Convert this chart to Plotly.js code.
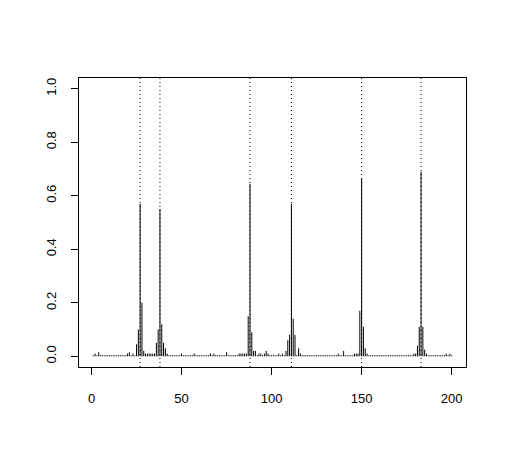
<!DOCTYPE html>
<html>
<head>
<meta charset="utf-8">
<script src="https://cdn.plot.ly/plotly-3.0.1.min.js"></script>
<style>html,body{margin:0;padding:0;background:#fff;}#chart{width:508px;height:464px;}</style>
</head>
<body>
<div id="chart"></div>
<script>
// values at positions 1..200
const values = [
  0.004,0.01,0.004,0.015,0.004,0.004,0.004,0.004,0.004,0.004,
  0.004,0.004,0.004,0.004,0.004,0.004,0.004,0.004,0.004,0.01,
  0.015,0.004,0.01,0.004,0.045,0.10,0.57,0.20,0.02,0.01,
  0.01,0.01,0.01,0.01,0.01,0.05,0.10,0.55,0.12,0.05,
  0.03,0.01,0.004,0.004,0.004,0.004,0.004,0.004,0.004,0.01,
  0.004,0.004,0.004,0.004,0.004,0.004,0.01,0.004,0.004,0.004,
  0.004,0.004,0.004,0.004,0.004,0.01,0.004,0.01,0.004,0.004,
  0.004,0.004,0.004,0.004,0.015,0.004,0.004,0.004,0.004,0.004,
  0.004,0.01,0.01,0.01,0.01,0.01,0.15,0.645,0.09,0.02,
  0.02,0.004,0.01,0.01,0.004,0.01,0.02,0.01,0.004,0.004,
  0.004,0.004,0.004,0.01,0.004,0.01,0.004,0.02,0.06,0.08,
  0.57,0.14,0.08,0.004,0.03,0.01,0.004,0.004,0.004,0.004,
  0.004,0.004,0.004,0.004,0.004,0.004,0.004,0.004,0.004,0.004,
  0.004,0.004,0.004,0.004,0.004,0.004,0.01,0.004,0.004,0.02,
  0.004,0.004,0.004,0.004,0.004,0.01,0.01,0.01,0.17,0.665,
  0.11,0.03,0.01,0.004,0.004,0.004,0.004,0.004,0.004,0.004,
  0.004,0.004,0.004,0.004,0.004,0.004,0.004,0.004,0.004,0.004,
  0.004,0.004,0.004,0.004,0.004,0.004,0.004,0.004,0.01,0.01,
  0.04,0.11,0.69,0.11,0.025,0.01,0.004,0.004,0.004,0.004,
  0.004,0.004,0.004,0.004,0.004,0.004,0.01,0.004,0.01,0.004
];
const positions = values.map((v, i) => i + 1);
// dotted reference lines
const markers = [27, 38, 88, 111, 150, 183];
const xTicks = [0, 50, 100, 150, 200];
const yTicks = [0, 0.2, 0.4, 0.6, 0.8, 1.0];

// build "h" type segments
const segX = [], segY = [];
positions.forEach((p, i) => {
  segX.push(p, p, null);
  segY.push(0, values[i], null);
});

const trace = {
  x: segX, y: segY, type: 'scatter', mode: 'lines',
  line: {color: '#000', width: 1}, hoverinfo: 'skip', connectgaps: false
};

const shapes = markers.map(m => ({
  type: 'line', xref: 'x', yref: 'paper', x0: m, x1: m, y0: 0, y1: 1,
  line: {color: '#000', width: 1, dash: '1px,3px'}
}));

const axisFont = {family: 'Liberation Sans, Arial, Helvetica, sans-serif', size: 13, color: '#000'};

const layout = {
  width: 508, height: 464,
  margin: {l: 79, r: 42, t: 78, b: 97},
  paper_bgcolor: '#fff', plot_bgcolor: '#fff',
  showlegend: false,
  xaxis: {
    range: [-6.96, 207.96], tickvals: xTicks, ticktext: xTicks.map(String),
    ticks: 'outside', ticklen: 7, tickcolor: '#000', tickwidth: 1,
    showline: true, mirror: true, linecolor: '#000', linewidth: 1,
    showgrid: false, zeroline: false, tickfont: axisFont, ticklabelstandoff: 12
  },
  yaxis: {
    range: [-0.04, 1.04], tickvals: yTicks, ticktext: yTicks.map(v => v.toFixed(1)),
    ticks: 'outside', ticklen: 7, tickcolor: '#000', tickwidth: 1, tickangle: -90,
    showline: true, mirror: true, linecolor: '#000', linewidth: 1,
    showgrid: false, zeroline: false, tickfont: axisFont, ticklabelstandoff: 10
  },
  shapes: shapes
};

Plotly.newPlot('chart', [trace], layout, {staticPlot: true, displayModeBar: false});
</script>
</body>
</html>
